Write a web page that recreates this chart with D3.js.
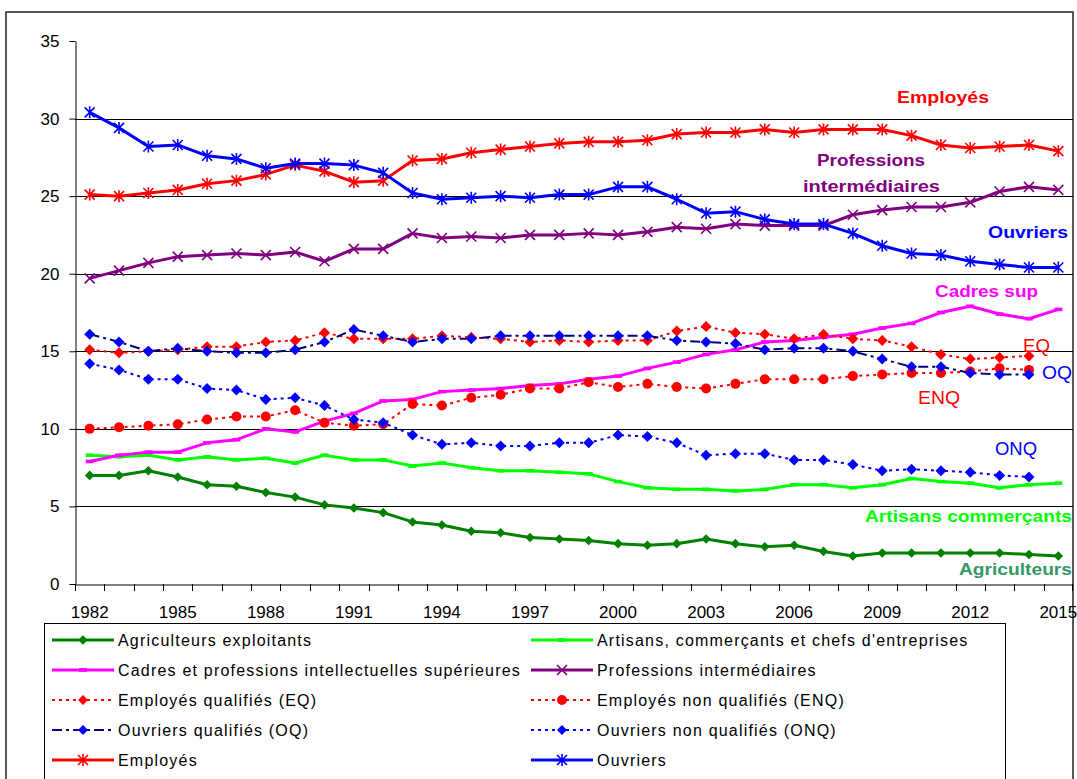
<!DOCTYPE html>
<html><head><meta charset="utf-8">
<script src="https://cdn.jsdelivr.net/npm/d3@7"></script>
<style>
body{margin:0;background:#fff}
svg{display:block}
text{font-family:"Liberation Sans",Arial,sans-serif}
</style>
</head><body>
<svg id="c" width="1077" height="779"></svg>
<script>
// ---------- DATA ----------
const years = [1982,1983,1984,1985,1986,1987,1988,1989,1990,1991,1992,1993,1994,1995,1996,1997,1998,1999,2000,2001,2002,2003,2004,2005,2006,2007,2008,2009,2010,2011,2012,2013,2014,2015];
const xTickLabels = [1982,1985,1988,1991,1994,1997,2000,2003,2006,2009,2012,2015];
const yTickLabels = [0,5,10,15,20,25,30,35];

const agriculteurs = [7.0,7.0,7.3,6.9,6.4,6.3,5.9,5.6,5.1,4.9, 4.6,4.0,3.8,3.4,3.3,3.0,2.9,2.8,2.6,2.5, 2.6,2.9,2.6,2.4,2.5,2.1,1.8,2.0,2.0,2.0, 2.0,2.0,1.9,1.8];
const artisans = [8.3,8.2,8.3,8.0,8.2,8.0,8.1,7.8,8.3,8.0, 8.0,7.6,7.8,7.5,7.3,7.3,7.2,7.1,6.6,6.2, 6.1,6.1,6.0,6.1,6.4,6.4,6.2,6.4,6.8,6.6, 6.5,6.2,6.4,6.5];
const cadres = [7.9,8.3,8.5,8.5,9.1,9.3,10.0,9.8,10.5,11.0, 11.8,11.9,12.4,12.5,12.6,12.8,12.9,13.2,13.4,13.9, 14.3,14.8,15.1,15.6,15.7,15.9,16.1,16.5,16.8,17.5, 17.9,17.4,17.1,17.7];
const profInter = [19.7,20.2,20.7,21.1,21.2,21.3,21.2,21.4,20.8,21.6, 21.6,22.6,22.3,22.4,22.3,22.5,22.5,22.6,22.5,22.7, 23.0,22.9,23.2,23.1,23.1,23.1,23.8,24.1,24.3,24.3, 24.6,25.3,25.6,25.4];
const empQual = [15.1,14.9,15.0,15.1,15.3,15.3,15.6,15.7,16.2,15.8, 15.8,15.8,16.0,15.9,15.8,15.6,15.7,15.6,15.7,15.7, 16.3,16.6,16.2,16.1,15.8,16.1,15.8,15.7,15.3,14.8, 14.5,14.6,14.7,null];
const empNonQual = [10.0,10.1,10.2,10.3,10.6,10.8,10.8,11.2,10.4,10.2, 10.3,11.6,11.5,12.0,12.2,12.6,12.6,13.0,12.7,12.9, 12.7,12.6,12.9,13.2,13.2,13.2,13.4,13.5,13.6,13.6, 13.7,13.9,13.8,null];
const ouvQual = [16.1,15.6,15.0,15.2,15.0,14.9,14.9,15.1,15.6,16.4, 16.0,15.6,15.8,15.8,16.0,16.0,16.0,16.0,16.0,16.0, 15.7,15.6,15.5,15.1,15.2,15.2,15.0,14.5,14.0,14.0, 13.6,13.5,13.5,null];
const ouvNonQual = [14.2,13.8,13.2,13.2,12.6,12.5,11.9,12.0,11.5,10.6, 10.4,9.6,9.0,9.1,8.9,8.9,9.1,9.1,9.6,9.5, 9.1,8.3,8.4,8.4,8.0,8.0,7.7,7.3,7.4,7.3, 7.2,7.0,6.9,null];
const employes = [25.1,25.0,25.2,25.4,25.8,26.0,26.4,27.0,26.6,25.9, 26.0,27.3,27.4,27.8,28.0,28.2,28.4,28.5,28.5,28.6, 29.0,29.1,29.1,29.3,29.1,29.3,29.3,29.3,28.9,28.3, 28.1,28.2,28.3,27.9];
const ouvriers = [30.4,29.4,28.2,28.3,27.6,27.4,26.8,27.1,27.1,27.0, 26.5,25.2,24.8,24.9,25.0,24.9,25.1,25.1,25.6,25.6, 24.8,23.9,24.0,23.5,23.2,23.2,22.6,21.8,21.3,21.2, 20.8,20.6,20.4,20.4];

const seriesNames = ["Agriculteurs exploitants","Artisans, commerçants et chefs d'entreprises","Cadres et professions intellectuelles supérieures","Professions intermédiaires","Employés qualifiés (EQ)","Employés non qualifiés (ENQ)","Ouvriers qualifiés (OQ)","Ouvriers non qualifiés (ONQ)","Employés","Ouvriers"];

// ---------- STYLE TABLE ----------
const series = [
  {name:seriesNames[0], values:agriculteurs, color:"#008000", mcolor:"#008000", width:3, dash:null, marker:"diamond", ms:4.8},
  {name:seriesNames[1], values:artisans, color:"#00FF00", mcolor:"#00FF00", width:3, dash:null, marker:"dash", ms:4},
  {name:seriesNames[2], values:cadres, color:"#FF00FF", mcolor:"#FF00FF", width:3, dash:null, marker:"dash", ms:4},
  {name:seriesNames[3], values:profInter, color:"#800080", mcolor:"#800080", width:3, dash:null, marker:"x", ms:5},
  {name:seriesNames[4], values:empQual, color:"#FF0000", mcolor:"#FF0000", width:2, dash:"3,4", marker:"diamond", ms:5.5},
  {name:seriesNames[5], values:empNonQual, color:"#FF0000", mcolor:"#FF0000", width:2, dash:"3,4", marker:"circle", ms:5},
  {name:seriesNames[6], values:ouvQual, color:"#000080", mcolor:"#0000FF", width:2, dash:"10,4,3,4", marker:"diamond", ms:5.5},
  {name:seriesNames[7], values:ouvNonQual, color:"#0000FF", mcolor:"#0000FF", width:2, dash:"3,4", marker:"diamond", ms:5.5},
  {name:seriesNames[8], values:employes, color:"#FF0000", mcolor:"#FF0000", width:3, dash:null, marker:"star", ms:5},
  {name:seriesNames[9], values:ouvriers, color:"#0000FF", mcolor:"#0000FF", width:3, dash:null, marker:"star", ms:5}
];

const svg = d3.select("#c");
svg.append("rect").attr("width",1077).attr("height",779).attr("fill","#fff");

// outer frame
svg.append("rect").attr("x",6).attr("y",12).attr("width",1067).attr("height",820)
  .attr("fill","none").attr("stroke","#222").attr("stroke-width",1.5);

const x = d3.scaleBand().domain(years).range([75,1073]).padding(0);
const cx = d => x(d) + x.bandwidth()/2;
const y = d3.scaleLinear().domain([0,35]).range([584,41]);

// gridlines
svg.append("g").selectAll("line").data(yTickLabels.filter(v => v>0 && v<35)).join("line")
  .attr("x1",75).attr("x2",1073)
  .attr("y1",d=>Math.round(y(d))+0.5).attr("y2",d=>Math.round(y(d))+0.5)
  .attr("stroke","#000").attr("stroke-width",1);

// y axis
const gy = svg.append("g").attr("transform","translate(75.5,0)")
  .call(d3.axisLeft(y).tickValues(yTickLabels).tickSize(6).tickSizeOuter(0).tickPadding(10));
gy.selectAll("text").attr("font-size",17).attr("fill","#000").style("font-family","'Liberation Sans',Arial,sans-serif");
gy.selectAll("line,path").attr("stroke","#000");

// x axis
const gx = svg.append("g").attr("transform","translate(0,584.5)")
  .call(d3.axisBottom(x).tickValues(xTickLabels).tickSize(0).tickSizeOuter(0).tickPadding(21));
gx.selectAll("text").attr("font-size",17).attr("fill","#000").style("font-family","'Liberation Sans',Arial,sans-serif");
gx.select(".domain").attr("stroke","#000");
// category boundary ticks
svg.append("g").selectAll("line").data(years.concat([null])).join("line")
  .attr("x1",(d,i)=> i<years.length ? Math.round(x(d))+0.5 : 1072.5)
  .attr("x2",(d,i)=> i<years.length ? Math.round(x(d))+0.5 : 1072.5)
  .attr("y1",584).attr("y2",591).attr("stroke","#000");

// markers
function drawMarker(g, type, px, py, color, s){
  if(type==="diamond"){
    g.append("path").attr("d",`M${px},${py-s}L${px+s},${py}L${px},${py+s}L${px-s},${py}Z`).attr("fill",color);
  } else if(type==="circle"){
    g.append("circle").attr("cx",px).attr("cy",py).attr("r",s).attr("fill",color);
  } else if(type==="star"){
    g.append("path").attr("d",`M${px-s},${py-s}L${px+s},${py+s}M${px-s},${py+s}L${px+s},${py-s}M${px},${py-s-1}L${px},${py+s+1}`)
      .attr("stroke",color).attr("stroke-width",1.6).attr("fill","none");
  } else if(type==="x"){
    g.append("path").attr("d",`M${px-s},${py-s}L${px+s},${py+s}M${px-s},${py+s}L${px+s},${py-s}`)
      .attr("stroke",color).attr("stroke-width",1.6).attr("fill","none");
  } else if(type==="dash"){
    g.append("rect").attr("x",px-s).attr("y",py-1.8).attr("width",2*s).attr("height",3.6).attr("fill",color);
  }
}

// series
const line = d3.line().defined(d => d.v != null).x(d => cx(d.year)).y(d => y(d.v));
series.forEach(s => {
  const pts = years.map((yr,i) => ({year:yr, v:s.values[i]}));
  const g = svg.append("g");
  g.append("path").datum(pts).attr("d",line).attr("fill","none")
    .attr("stroke",s.color).attr("stroke-width",s.width)
    .attr("stroke-dasharray",s.dash).attr("stroke-linejoin","round");
  pts.filter(p=>p.v!=null).forEach(p => drawMarker(g, s.marker, cx(p.year), y(p.v), s.mcolor, s.ms));
});

// annotations
const annots = [
  {t:"Employés", x:897, y:103, w:92, size:17, bold:true, c:"#FF0000"},
  {t:"Professions", x:817, y:166, w:108, size:17, bold:true, c:"#800080"},
  {t:"intermédiaires", x:803, y:192, w:137, size:17, bold:true, c:"#800080"},
  {t:"Ouvriers", x:988, y:238, w:80, size:17, bold:true, c:"#0000FF"},
  {t:"Cadres sup", x:935, y:297, w:103, size:17, bold:true, c:"#FF00FF"},
  {t:"EQ", x:1023, y:352, w:27, size:19, bold:false, c:"#FF0000"},
  {t:"OQ", x:1042, y:379, w:30, size:19, bold:false, c:"#0000FF"},
  {t:"ENQ", x:918, y:404, w:42, size:19, bold:false, c:"#FF0000"},
  {t:"ONQ", x:995, y:455, w:42, size:19, bold:false, c:"#0000FF"},
  {t:"Artisans commerçants", x:865, y:522, w:207, size:17, bold:true, c:"#00FF00"},
  {t:"Agriculteurs", x:959, y:575, w:113, size:17, bold:true, c:"#339966"}
];
svg.append("g").selectAll("text").data(annots).join("text")
  .attr("x",d=>d.x).attr("y",d=>d.y).text(d=>d.t)
  .attr("font-size",d=>d.size).attr("font-weight",d=>d.bold?"bold":"normal")
  .attr("fill",d=>d.c).attr("textLength",d=>d.w).attr("lengthAdjust","spacingAndGlyphs");

// legend
const lg = svg.append("g");
lg.append("rect").attr("x",44.5).attr("y",623.5).attr("width",961).attr("height",200)
  .attr("fill","#fff").attr("stroke","#000").attr("stroke-width",1);
series.forEach((s,i) => {
  const col = i % 2, row = Math.floor(i/2);
  const x0 = col===0 ? 52 : 531;
  const yy = 640 + row*30;
  const g = lg.append("g");
  g.append("line").attr("x1",x0).attr("x2",x0+62).attr("y1",yy).attr("y2",yy)
    .attr("stroke",s.color).attr("stroke-width",s.width).attr("stroke-dasharray",s.dash);
  drawMarker(g, s.marker, x0+31, yy, s.mcolor, s.marker==="dash" ? 4 : Math.min(s.ms,5));
  g.append("text").attr("x",x0+66).attr("y",yy+6).text(s.name)
    .attr("font-size",16).attr("letter-spacing","1.2px").attr("fill","#000");
});
</script>
</body></html>
